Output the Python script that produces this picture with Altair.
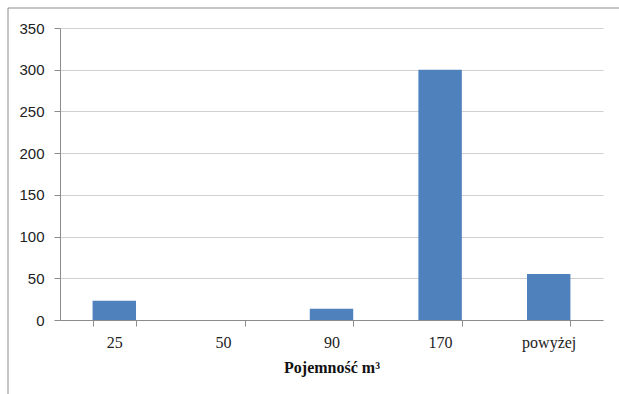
import altair as alt
import pandas as pd

categories = ["25", "50", "90", "170", "powyżej"]
counts = [23, 0, 13.5, 300, 55]
y_ticks = [0, 50, 100, 150, 200, 250, 300, 350]

df = pd.DataFrame({"kat": categories, "n": counts})

bars = alt.Chart(df).mark_bar(color="#4f81bd").encode(
    x=alt.X("kat:N", sort=categories,
            scale=alt.Scale(paddingInner=0.6, paddingOuter=0.3),
            axis=alt.Axis(title="Pojemność m³", labelAngle=0,
                          labelFont="Liberation Serif", labelFontSize=16,
                          labelColor="#222", labelBaseline="alphabetic",
                          labelPadding=21, tickSize=6, tickBand="extent",
                          tickColor="#8c8c8c", domainColor="#8c8c8c",
                          titleFont="Liberation Serif", titleFontSize=16,
                          titleFontWeight="bold", titleColor="#111",
                          titleBaseline="alphabetic", titleY=52, grid=False)),
    y=alt.Y("n:Q", scale=alt.Scale(domain=[0, 350], nice=False),
            axis=alt.Axis(title=None, values=y_ticks,
                          labelFont="Liberation Sans", labelFontSize=15,
                          labelColor="#222", labelPadding=10, tickSize=6,
                          tickColor="#8c8c8c", domainColor="#8c8c8c",
                          gridColor="#d0d0d0", grid=True)),
)

border = alt.Chart(pd.DataFrame({"b": [0]})).mark_rect(
    fill=None, stroke="#8c8c8c", strokeWidth=1
).encode(
    x=alt.value(-52), x2=alt.value(700), y=alt.value(-20), y2=alt.value(500)
)

chart = alt.layer(bars, border).properties(
    width=543, height=292,
    padding={"left": 60, "top": 28, "right": 16, "bottom": 74},
    autosize=alt.AutoSizeParams(type="none"),
    background="white",
).configure_view(stroke=None)

chart.save("out.html", embed_options={"renderer": "svg", "actions": False})
